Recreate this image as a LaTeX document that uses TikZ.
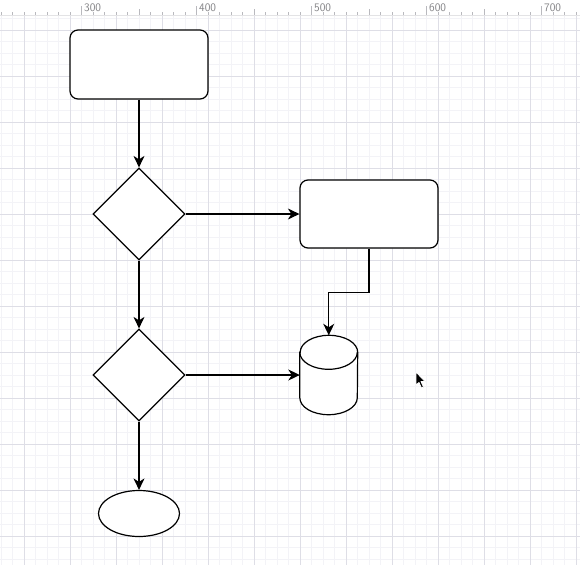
\documentclass[tikz,border=0pt]{standalone}
\usepackage{tikz}
\usetikzlibrary{shapes.geometric,arrows.meta}
\definecolor{gridminor}{RGB}{243,243,247}
\definecolor{gridmajor}{RGB}{222,222,230}
\definecolor{rulergray}{RGB}{185,185,190}

\begin{document}
\begin{tikzpicture}[
  x=1pt, y=-1pt,
  shp/.style={draw, fill=white, line width=1.2pt, inner sep=0pt},
  proc/.style={shp, rectangle, rounded corners=8pt, minimum width=138pt, minimum height=69pt},
  dec/.style={shp, diamond, minimum width=92pt, minimum height=92pt},
  term/.style={shp, ellipse, minimum width=81pt, minimum height=46pt},
  rlabel/.style={anchor=west, inner sep=0pt, text=rulergray!70!black, font=\fontsize{11.5}{11.5}\selectfont\sffamily},
  arr/.style={draw, line width=1.2pt, -{Stealth[length=11.5pt, width=11pt, inset=3.5pt]}},
]
\useasboundingbox (0,0) rectangle (580,565);
% --- Grid ---
\foreach \x in {1,12.5,...,580} { \draw[gridminor, line width=0.8pt] (\x,15) -- (\x,565); }
\foreach \y in {18.5,30,...,565} { \draw[gridminor, line width=0.8pt] (0,\y) -- (580,\y); }
\foreach \x in {24,70,...,580} { \draw[gridmajor, line width=0.8pt] (\x,15) -- (\x,565); }
\foreach \y in {30,76,...,565} { \draw[gridmajor, line width=0.8pt] (0,\y) -- (580,\y); }
% --- Ruler ---
\draw[rulergray!40, line width=0.6pt] (0,15) -- (580,15);
\foreach \x in {1,12.5,...,580} { \draw[rulergray, line width=0.6pt] (\x,12) -- (\x,15); }
\foreach \x in {139,254,369,484} { \draw[rulergray, line width=0.6pt] (\x,9) -- (\x,15); }
\foreach \x/\v in {81.5/300,196.5/400,311.5/500,426.5/600,541.5/700} {
  \draw[rulergray, line width=0.6pt] (\x,6) -- (\x,15);
  \node[rlabel] (r\v) at (\x+2.5,8) {\v};
}
% --- Shapes ---
\node[proc] (start) at (139,64.5) {};
\node[dec] (q1) at (139,214) {};
\node[proc, minimum height=68pt] (task) at (369,214) {};
\node[dec] (q2) at (139,375) {};
\node[inner sep=0pt, minimum width=57.5pt, minimum height=79pt] (db) at (328.75,375) {};
\node[term] (stop) at (139,513.5) {};
% --- Cylinder ---
\draw[shp] ([yshift=-17pt]db.north west) -- ([yshift=17pt]db.south west)
  arc[start angle=180, end angle=360, x radius=28.75pt, y radius=17pt]
  -- ([yshift=-17pt]db.north east)
  arc[start angle=0, end angle=180, x radius=28.75pt, y radius=17pt] -- cycle;
\draw[line width=1.2pt] ([yshift=-17pt]db.north west)
  arc[start angle=180, end angle=360, x radius=28.75pt, y radius=17pt];
% --- Connectors ---
\draw[arr] (start) -- (q1);
\draw[arr] (q1) -- (task);
\draw[arr] (q1) -- (q2);
\draw[arr] (q2) -- (db);
\draw[arr] (task.south) -- ++(0,43.5) -| (db.north);
\draw[arr] (q2) -- (stop);
% --- Pointer ---
\filldraw[fill=black, draw=white, line width=0.8pt, line join=round]
  (416,372) -- (416,385) -- (419,382.5) -- (421.5,388) -- (423.5,387)
  -- (421,381.5) -- (425,381.5) -- cycle;
\end{tikzpicture}
\end{document}
